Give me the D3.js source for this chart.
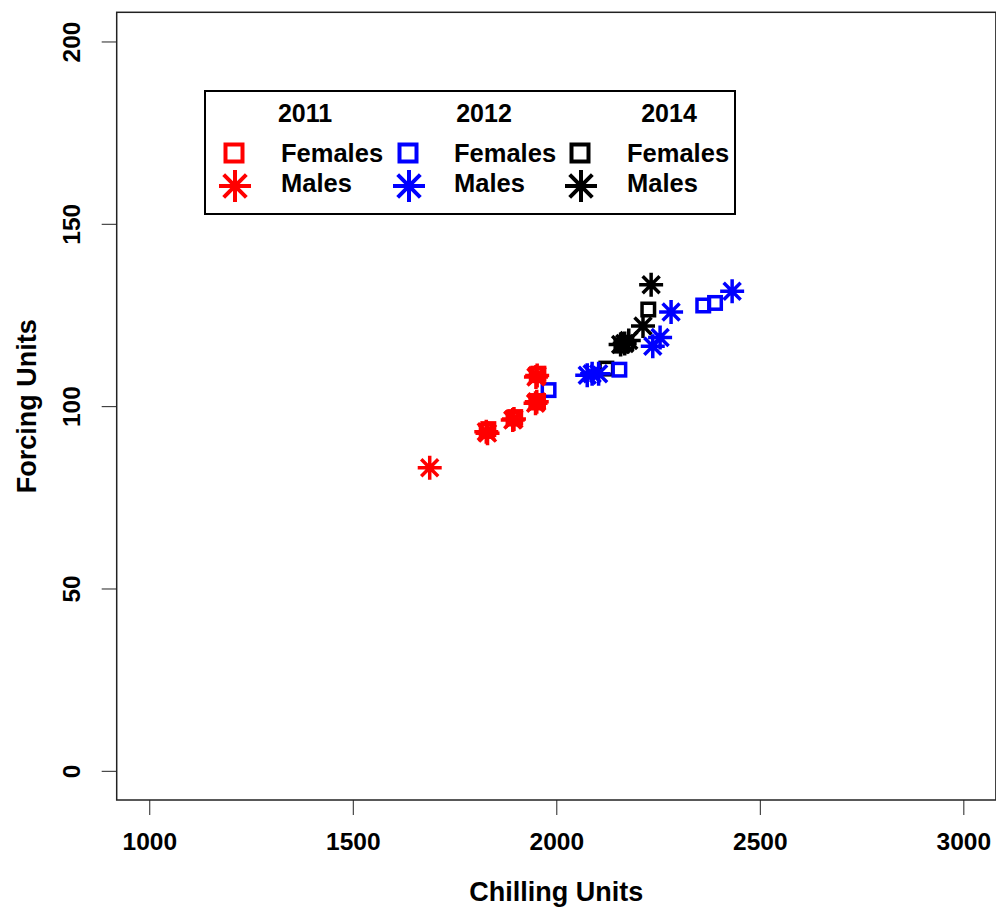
<!DOCTYPE html>
<html>
<head>
<meta charset="utf-8">
<script src="https://cdn.jsdelivr.net/npm/d3@7"></script>
<style>
  html, body { margin: 0; padding: 0; background: #fff; }
  svg { display: block; font-family: "Liberation Sans", Arial, sans-serif; font-weight: bold; }
</style>
</head>
<body>
<svg id="chart" width="996" height="907"></svg>
<script>
// Chilling vs forcing units, by year and sex
const years = ["2011", "2012", "2014"];
const yearColors = ["#ff0000", "#0000ff", "#000000"];
const sexLabels = ["Females", "Males"];

// [chilling units, forcing units]
const females2011 = [[1829, 93.2], [1833, 93.7], [1895, 96.6], [1899, 97.0], [1951, 101.0], [1955, 101.4], [1952, 108.5], [1956, 108.9]];
const males2011 = [[1689, 83.1], [1828, 93.0], [1831, 92.6], [1896, 96.5], [1893, 96.2], [1952, 101.2], [1949, 100.8], [1953, 108.4], [1950, 108.0]];
const females2012 = [[1981, 104.4], [2155, 110.0], [2361, 127.6], [2390, 128.3]];
const males2012 = [[2076, 108.5], [2088, 108.9], [2104, 108.9], [2237, 116.4], [2255, 118.8], [2282, 125.8], [2432, 131.5]];
const females2014 = [[2123, 110.3], [2226, 126.5], [2160, 116.6], [2172, 117.4]];
const males2014 = [[2158, 116.9], [2178, 118.0], [2168, 117.2], [2213, 122.0], [2233, 133.3]];

const xTicks = [1000, 1500, 2000, 2500, 3000];
const yTicks = [0, 50, 100, 150, 200];
const xTitle = "Chilling Units";
const yTitle = "Forcing Units";

const svg = d3.select("#chart");
const plot = { left: 116.7, right: 995.9, top: 12.3, bottom: 800 };

const x = d3.scaleLinear().domain([920, 3080]).range([plot.left, plot.right]);
const y = d3.scaleLinear().domain([-8, 208]).range([plot.bottom, plot.top]);

// plot frame
svg.append("rect")
  .attr("x", plot.left).attr("y", plot.top)
  .attr("width", plot.right - plot.left).attr("height", plot.bottom - plot.top)
  .attr("fill", "none").attr("stroke", "#222").attr("stroke-width", 1.5);

// axes
const xAxis = d3.axisBottom(x).tickValues(xTicks).tickSize(15).tickPadding(18).tickFormat(d3.format("d"));
const gx = svg.append("g").attr("transform", `translate(0,${plot.bottom})`).call(xAxis);
gx.select(".domain").remove();
gx.selectAll(".tick line").attr("stroke", "#222").attr("stroke-width", 1);
gx.selectAll(".tick text").attr("font-size", 24.5).attr("font-family", null).attr("fill", "#000");

const yAxis = d3.axisLeft(y).tickValues(yTicks).tickSize(15).tickFormat(d3.format("d"));
const gy = svg.append("g").attr("transform", `translate(${plot.left},0)`).call(yAxis);
gy.select(".domain").remove();
gy.selectAll(".tick line").attr("stroke", "#222").attr("stroke-width", 1);
gy.selectAll(".tick text")
  .attr("font-size", 24.5).attr("font-family", null).attr("fill", "#000")
  .attr("x", null).attr("dy", null)
  .attr("text-anchor", "middle").attr("dominant-baseline", "central")
  .attr("transform", "translate(-45,0) rotate(-90)");

// axis titles
svg.append("text")
  .attr("x", (plot.left + plot.right) / 2).attr("y", 892)
  .attr("text-anchor", "middle").attr("dominant-baseline", "central")
  .attr("font-size", 27).text(xTitle);
svg.append("text")
  .attr("transform", `translate(27,${(plot.top + plot.bottom) / 2}) rotate(-90)`)
  .attr("text-anchor", "middle").attr("dominant-baseline", "central")
  .attr("font-size", 27).text(yTitle);

// marker shapes
function asteriskPath(r) {
  const d = r / Math.SQRT2;
  return `M${-r},0L${r},0M0,${-r}L0,${r}M${-d},${-d}L${d},${d}M${-d},${d}L${d},${-d}`;
}
function drawSquares(g, data, color, side, sw) {
  g.selectAll(null).data(data).enter().append("rect")
    .attr("x", d => x(d[0]) - side / 2).attr("y", d => y(d[1]) - side / 2)
    .attr("width", side).attr("height", side)
    .attr("fill", "none").attr("stroke", color).attr("stroke-width", sw);
}
function drawStars(g, data, color, r, sw) {
  g.selectAll(null).data(data).enter().append("path")
    .attr("transform", d => `translate(${x(d[0])},${y(d[1])})`)
    .attr("d", asteriskPath(r))
    .attr("fill", "none").attr("stroke", color).attr("stroke-width", sw)
    .attr("stroke-linecap", "butt");
}

const pts = svg.append("g");
const groups = [
  { f: females2014, m: males2014, c: yearColors[2] },
  { f: females2012, m: males2012, c: yearColors[1] },
  { f: females2011, m: males2011, c: yearColors[0] }
];
groups.forEach(gr => drawSquares(pts, gr.f, gr.c, 12.5, 3.5));
groups.forEach(gr => drawStars(pts, gr.m, gr.c, 12, 3.5));

// legend
const legend = svg.append("g");
legend.append("rect")
  .attr("x", 205).attr("y", 91).attr("width", 530).attr("height", 123)
  .attr("fill", "#fff").attr("stroke", "#000").attr("stroke-width", 2);

const colSym = [234, 408, 580];
const colText = [281, 454, 627];
const colHead = [305, 484, 669];
const rowY = [153, 183];

years.forEach((yr, i) => {
  legend.append("text")
    .attr("x", colHead[i]).attr("y", 113)
    .attr("text-anchor", "middle").attr("dominant-baseline", "central")
    .attr("font-size", 25).text(yr);
  legend.append("rect")
    .attr("x", colSym[i] - 8.5).attr("y", rowY[0] - 8.5)
    .attr("width", 17).attr("height", 17)
    .attr("fill", "none").attr("stroke", yearColors[i]).attr("stroke-width", 4);
  legend.append("path")
    .attr("transform", `translate(${colSym[i] + 1},${rowY[1] + 3})`)
    .attr("d", asteriskPath(16))
    .attr("fill", "none").attr("stroke", yearColors[i]).attr("stroke-width", 4);
  sexLabels.forEach((s, j) => {
    legend.append("text")
      .attr("x", colText[i]).attr("y", rowY[j])
      .attr("dominant-baseline", "central")
      .attr("font-size", 25.5).text(s);
  });
});
</script>
</body>
</html>
